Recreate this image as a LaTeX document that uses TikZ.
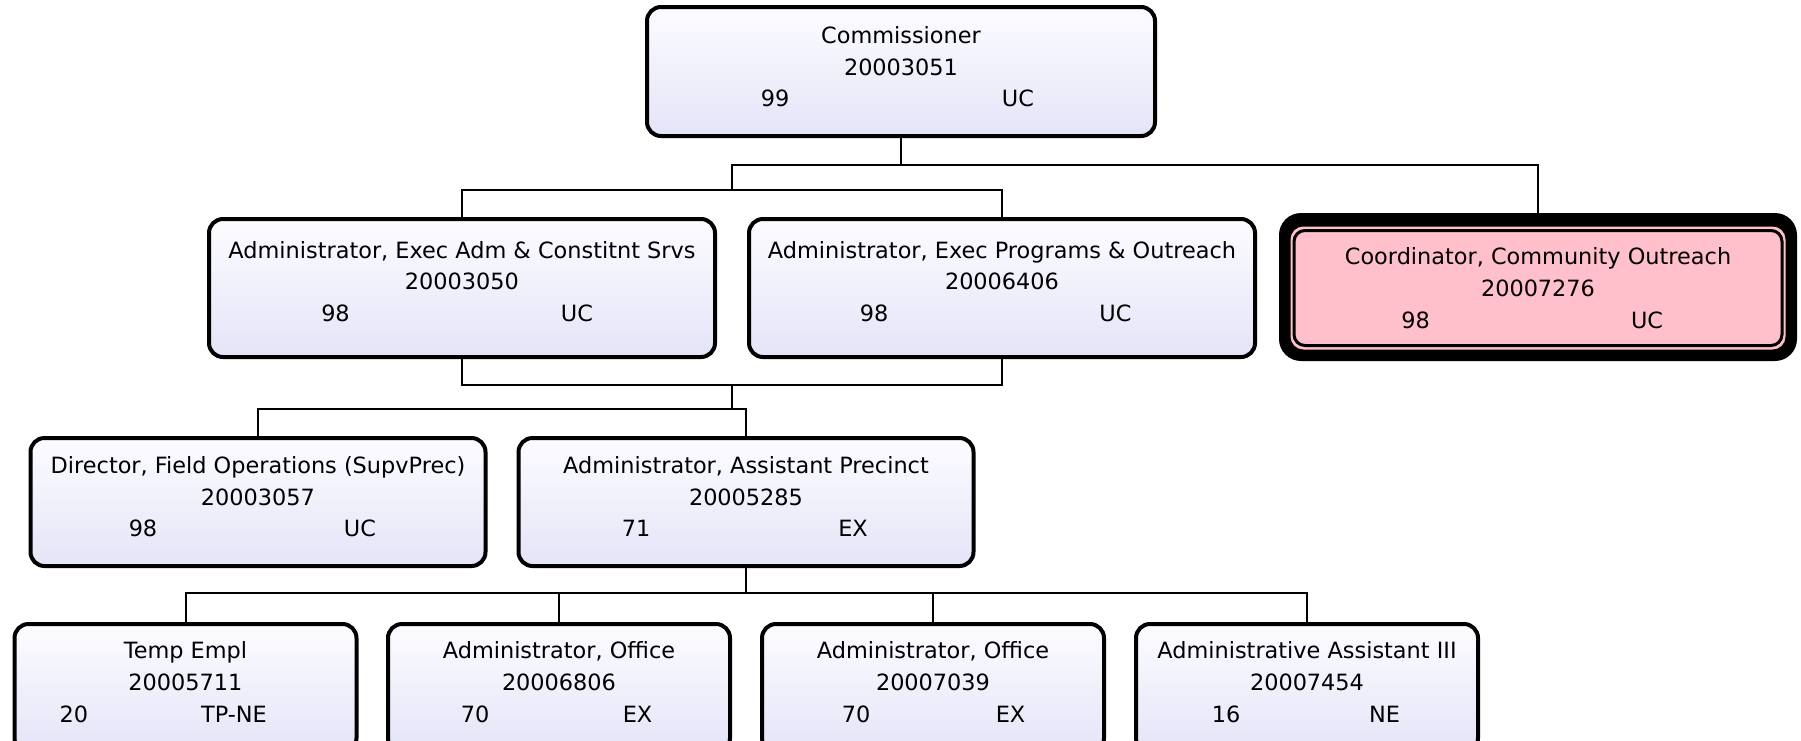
\documentclass[tikz,border=0pt]{standalone}
\usepackage{fontspec}
\setmainfont{DejaVu Sans}
\definecolor{boxtop}{RGB}{252,252,255}
\definecolor{boxbot}{RGB}{228,228,248}
\definecolor{pinkfill}{RGB}{255,192,203}
\begin{document}
\begin{tikzpicture}[x=1pt,y=-1pt,
  box/.style={draw=black, line width=4pt, rounded corners=14pt, top color=boxtop, bottom color=boxbot, inner sep=0pt},
  conn/.style={draw=black, line width=2pt},
  txt/.style={anchor=base, inner sep=0pt, font=\fontsize{22.4pt}{26pt}\selectfont}]
\useasboundingbox (0,0) rectangle (1801,740);
% boxes
\node[box, minimum width=508pt, minimum height=129pt] (comm) at (901,71.5) {};
\node[box, minimum width=506pt, minimum height=138pt] (aea) at (462,288) {};
\node[box, minimum width=506pt, minimum height=138pt] (aepo) at (1002,288) {};
\node[fill=black, rounded corners=22pt, inner sep=0pt, outer sep=0pt, minimum width=518pt, minimum height=148pt] (pink) at (1538,287) {};
\node[fill=pinkfill, rounded corners=13pt, inner sep=0pt, minimum width=495pt, minimum height=123pt] (pinkband) at (1538,288) {};
\node[draw=black, line width=3pt, fill=pinkfill, rounded corners=11pt, inner sep=0pt, minimum width=488pt, minimum height=115pt] (pinkin) at (1538,288) {};
\node[box, minimum width=455pt, minimum height=128pt] (dir) at (258,502) {};
\node[box, minimum width=455pt, minimum height=128pt] (prec) at (746,502) {};
\node[box, minimum width=342pt, minimum height=128pt] (temp) at (185.5,688) {};
\node[box, minimum width=342pt, minimum height=128pt] (off1) at (559,688) {};
\node[box, minimum width=342pt, minimum height=128pt] (off2) at (933,688) {};
\node[box, minimum width=342pt, minimum height=128pt] (aa) at (1307,688) {};
% junctions
\coordinate (b1) at (732,165);
\coordinate (b2) at (732,190);
\coordinate (b3) at (732,385);
\coordinate (b4) at (732,409);
\coordinate (b5) at (746,593);
% connectors
\draw[conn] (comm.south) -- (comm.south |- b1);
\draw[conn] (pink.north) |- (b1) -- (b2);
\draw[conn] (aea.north) |- (b2) -| (aepo.north);
\draw[conn] (aea.south) |- (b3) -| (aepo.south);
\draw[conn] (b3) -- (b4);
\draw[conn] (dir.north) |- (b4) -| (prec.north);
\draw[conn] (prec.south) -- (b5);
\draw[conn] (temp.north) |- (b5) -| (aa.north);
\draw[conn] (off1.north) -- (off1.north |- b5);
\draw[conn] (off2.north) -- (off2.north |- b5);
% texts: Commissioner
\node[txt] (commt) at (901,43.5) {Commissioner};
\node[txt] (commn) at (901,75) {20003051};
\node[txt] (comma) at (775,106.5) {99};
\node[txt] (commb) at (1018,106.5) {UC};
% aea
\node[txt] (aeat) at (462,258) {Administrator, Exec Adm \& Constitnt Srvs};
\node[txt] (aean) at (462,289.5) {20003050};
\node[txt] (aeaa) at (335.5,321) {98};
\node[txt] (aeab) at (577,321) {UC};
% aepo
\node[txt] (aepot) at (1002,258) {Administrator, Exec Programs \& Outreach};
\node[txt] (aepon) at (1002,289.5) {20006406};
\node[txt] (aepoa) at (874,321) {98};
\node[txt] (aepob) at (1115.5,321) {UC};
% pink
\node[txt] (pinkt) at (1538,264.5) {Coordinator, Community Outreach};
\node[txt] (pinkn) at (1538,296) {20007276};
\node[txt] (pinka) at (1415.5,328) {98};
\node[txt] (pinkb) at (1647,328) {UC};
% dir
\node[txt] (dirt) at (258,473) {Director, Field Operations (SupvPrec)};
\node[txt] (dirn) at (258,505) {20003057};
\node[txt] (dira) at (143,536) {98};
\node[txt] (dirb) at (360,536) {UC};
% prec
\node[txt] (prect) at (746,473) {Administrator, Assistant Precinct};
\node[txt] (precn) at (746,505) {20005285};
\node[txt] (preca) at (636,536) {71};
\node[txt] (precb) at (853,536) {EX};
% temp
\node[txt] (tempt) at (185.5,658) {Temp Empl};
\node[txt] (tempn) at (185.5,690) {20005711};
\node[txt] (tempa) at (74,722) {20};
\node[txt] (tempb) at (234,722) {TP-NE};
% off1
\node[txt] (off1t) at (559,658) {Administrator, Office};
\node[txt] (off1n) at (559,690) {20006806};
\node[txt] (off1a) at (475,722) {70};
\node[txt] (off1b) at (637.5,722) {EX};
% off2
\node[txt] (off2t) at (933,658) {Administrator, Office};
\node[txt] (off2n) at (933,690) {20007039};
\node[txt] (off2a) at (856,722) {70};
\node[txt] (off2b) at (1010.5,722) {EX};
% aa
\node[txt] (aat) at (1307,658) {Administrative Assistant III};
\node[txt] (aan) at (1307,690) {20007454};
\node[txt] (aaa) at (1226,722) {16};
\node[txt] (aab) at (1384.5,722) {NE};
\end{tikzpicture}
\end{document}
